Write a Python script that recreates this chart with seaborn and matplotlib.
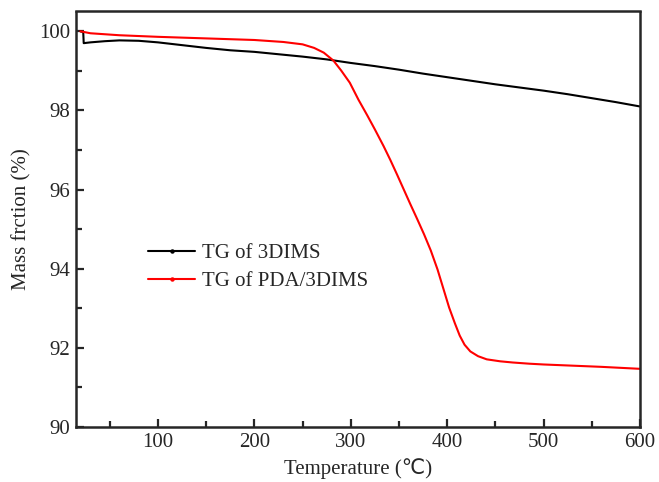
import numpy as np
import pandas as pd
import seaborn as sns
import matplotlib
matplotlib.use("Agg")
import matplotlib.pyplot as plt
from matplotlib.ticker import MultipleLocator
from matplotlib.lines import Line2D

# --- data ---
temp_3dims = [19.5, 22.5, 23, 30, 45, 60, 80, 100, 125, 150, 175, 200, 225, 250, 275, 300,
              325, 350, 375, 400, 425, 450, 475, 500, 525, 550, 575, 600]
mass_3dims = [100.0, 99.98, 99.70, 99.72, 99.75, 99.77, 99.76, 99.72, 99.65, 99.58, 99.52,
              99.48, 99.42, 99.36, 99.29, 99.20, 99.12, 99.03, 98.93, 98.84, 98.75, 98.66,
              98.58, 98.50, 98.41, 98.31, 98.21, 98.10]

temp_pda = [19.5, 30, 60, 100, 150, 200, 230, 250, 262, 272, 282, 290, 299, 308, 317, 325,
            334, 341, 348, 355, 362, 369, 376, 383, 390, 396, 402, 408, 413, 418, 424, 432,
            441, 455, 468, 485, 500, 530, 560, 600]
mass_pda = [100.0, 99.95, 99.90, 99.86, 99.82, 99.78, 99.73, 99.67, 99.58, 99.46, 99.26,
            99.01, 98.70, 98.27, 97.88, 97.52, 97.10, 96.75, 96.38, 96.00, 95.62, 95.25,
            94.87, 94.46, 93.98, 93.50, 93.02, 92.62, 92.31, 92.08, 91.91, 91.79, 91.71,
            91.66, 91.63, 91.60, 91.58, 91.55, 91.52, 91.47]

series_names = ["TG of 3DIMS", "TG of PDA/3DIMS"]
colors = ["#000000", "#ff0000"]

df = pd.concat([
    pd.DataFrame({"T": temp_3dims, "m": mass_3dims, "s": series_names[0]}),
    pd.DataFrame({"T": temp_pda, "m": mass_pda, "s": series_names[1]}),
])

sns.set_style("ticks")
plt.rcParams["font.family"] = ["Liberation Serif", "DejaVu Sans"]

fig = plt.figure(figsize=(6.59, 4.82), dpi=100)
ax = fig.add_axes([76 / 659, 1 - 427 / 482, (640 - 76) / 659, (427 - 11.5) / 482])

sns.lineplot(data=df, x="T", y="m", hue="s", palette=dict(zip(series_names, colors)),
             sort=False, estimator=None, linewidth=1.5, ax=ax, legend=False)

ax.set_xlim(15, 600)
ax.set_ylim(90, 100.5)
ax.xaxis.set_major_locator(MultipleLocator(100))
ax.xaxis.set_minor_locator(MultipleLocator(50))
ax.yaxis.set_major_locator(MultipleLocator(2))
ax.yaxis.set_minor_locator(MultipleLocator(1))
ax.tick_params(which="both", direction="in", top=False, right=False, width=1.6,
               labelsize=15, pad=4)
ax.tick_params(which="major", length=6)
ax.tick_params(which="minor", length=4)
for sp in ax.spines.values():
    sp.set_linewidth(1.8)

ax.set_xlabel("Temperature (℃)", fontsize=15, labelpad=5)
ax.set_ylabel("Mass frction (%)", fontsize=15, labelpad=6)

handles = [Line2D([0], [0], color=c, lw=1.5, marker="o", markersize=2.2) for c in colors]
ax.legend(handles, series_names, loc="upper left", bbox_to_anchor=(0.113, 0.461),
          frameon=False, fontsize=15, handlelength=2.27, handletextpad=0.3,
          labelspacing=0.4, borderaxespad=0)

fig.savefig("out.png", dpi=100)
